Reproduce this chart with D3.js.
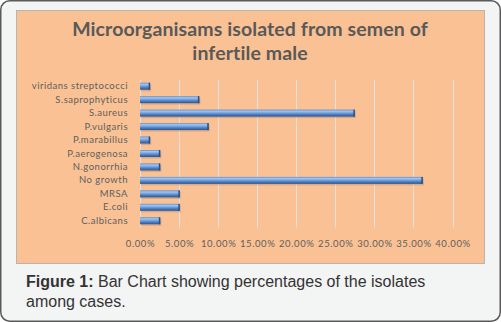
<!DOCTYPE html>
<html>
<head>
<meta charset="utf-8">
<script src="https://cdn.jsdelivr.net/npm/d3@7"></script>
<style>
  html, body { margin: 0; padding: 0; background: #ffffff; }
  svg { display: block; }
</style>
</head>
<body>
<svg id="svg"></svg>
<script>
// data (percent of cases), bottom to top as in the original
const categories = ["C.albicans", "E.coli", "MRSA", "No growth", "N.gonorrhia", "P.aerogenosa",
    "P.marabillus", "P.vulgaris", "S.aureus", "S.saprophyticus", "viridans streptococci"];
const percents = [2.6, 5.1, 5.1, 36.2, 2.6, 2.6, 1.3, 8.8, 27.5, 7.6, 1.3];
const tickValues = [0, 5, 10, 15, 20, 25, 30, 35, 40];
const titleLines = ["Microorganisams isolated from semen of", "infertile male"];

const width = 501;
const height = 322;
let svg = d3.select("#svg").attr("width", width).attr("height", height);

// outer card
svg.append("rect")
    .attr("x", 0.75).attr("y", 0.75)
    .attr("width", width - 1.5).attr("height", height - 1.5)
    .attr("rx", 9)
    .attr("fill", "#f3f4f4")
    .attr("stroke", "#5a5a5a")
    .attr("stroke-width", 1.5);

// orange chart panel
svg.append("rect")
    .attr("x", 16.5).attr("y", 10.5)
    .attr("width", 468).attr("height", 253)
    .attr("fill", "#f9c194")
    .attr("stroke", "#b9b4b0")
    .attr("stroke-width", 1);

// title
svg.append("g").selectAll("text")
    .data(titleLines)
    .enter().append("text")
    .attr("x", 250)
    .attr("y", (d, i) => 36 + i * 24)
    .attr("text-anchor", "middle")
    .style("font-family", "Lato")
    .style("font-weight", "bold")
    .style("font-size", "19.5px")
    .style("letter-spacing", "0.1px")
    .style("fill", "#595959")
    .text(d => d);

const margin = { top: 79.5, left: 140, right: 48.5, bottom: 94.5 };
const chartWidth = width - margin.left - margin.right;
const chartHeight = height - margin.top - margin.bottom;

let chart = svg.append("g")
    .attr("transform", "translate(" + margin.left + "," + margin.top + ")");

let xScale = d3.scaleLinear()
    .domain([0, 40])
    .range([0, chartWidth]);

let yScale = d3.scaleBand()
    .domain(categories.slice().reverse())
    .range([0, chartHeight])
    .paddingInner(0.48)
    .paddingOuter(0.24);

// bar gradient
const defs = svg.append("defs");
const grad = defs.append("linearGradient")
    .attr("id", "barGrad")
    .attr("x1", 0).attr("y1", 0).attr("x2", 0).attr("y2", 1);
[["0%", "#5d8bd0"], ["22%", "#9fc6f2"], ["45%", "#78a6e0"], ["70%", "#4d7bbd"], ["100%", "#2f568d"]]
    .forEach(s => grad.append("stop").attr("offset", s[0]).attr("stop-color", s[1]));

// gridlines
chart.append("g")
    .selectAll("line")
    .data(tickValues)
    .enter().append("line")
    .attr("x1", d => Math.round(xScale(d)) + 0.5)
    .attr("x2", d => Math.round(xScale(d)) + 0.5)
    .attr("y1", 0)
    .attr("y2", chartHeight)
    .attr("stroke", "#e3e1df")
    .attr("stroke-width", 1);

// shadow under bars
chart.selectAll(".shadow")
    .data(percents)
    .enter().append("rect")
    .attr("class", "shadow")
    .attr("x", 1)
    .attr("y", (d, i) => yScale(categories[i]) + 1.5)
    .attr("width", d => xScale(d))
    .attr("height", yScale.bandwidth())
    .attr("fill", "#b88e6c")
    .attr("opacity", 0.45);

// bars
chart.selectAll(".bar")
    .data(percents)
    .enter().append("rect")
    .attr("class", "bar")
    .attr("x", 0)
    .attr("y", (d, i) => yScale(categories[i]))
    .attr("width", d => xScale(d))
    .attr("height", yScale.bandwidth())
    .attr("fill", "url(#barGrad)");

// darker bevel at the bar end
chart.selectAll(".cap")
    .data(percents)
    .enter().append("rect")
    .attr("class", "cap")
    .attr("x", d => xScale(d) - 1.5)
    .attr("y", (d, i) => yScale(categories[i]))
    .attr("width", 1.5)
    .attr("height", yScale.bandwidth())
    .attr("fill", "#2c4f80");

// category labels
const yAxis = chart.append("g")
    .attr("class", "y-axis")
    .call(d3.axisLeft(yScale).tickSize(0).tickPadding(12));
yAxis.select(".domain").remove();
yAxis.selectAll("text")
    .style("font-family", "Lato")
    .style("font-size", "9.5px")
    .style("letter-spacing", "0.5px")
    .style("fill", "#5f5f5f");

// percent axis
const xAxis = chart.append("g")
    .attr("class", "x-axis")
    .attr("transform", "translate(0," + chartHeight + ")")
    .call(d3.axisBottom(xScale).tickValues(tickValues).tickSize(0).tickPadding(13)
        .tickFormat(d => d3.format(".2f")(d) + "%"));
xAxis.select(".domain").remove();
xAxis.selectAll("text")
    .style("font-family", "Lato")
    .style("font-size", "9.5px")
    .style("letter-spacing", "0.6px")
    .style("fill", "#5f5f5f");

// caption
const caption = svg.append("text")
    .style("font-family", "Liberation Sans")
    .style("font-size", "16px")
    .style("fill", "#333333");
const line1 = caption.append("tspan").attr("x", 26).attr("y", 287);
line1.append("tspan").style("font-weight", "bold").text("Figure 1:");
line1.append("tspan").text(" Bar Chart showing percentages of the isolates");
caption.append("tspan").attr("x", 26).attr("y", 307).text("among cases.");
</script>
</body>
</html>
